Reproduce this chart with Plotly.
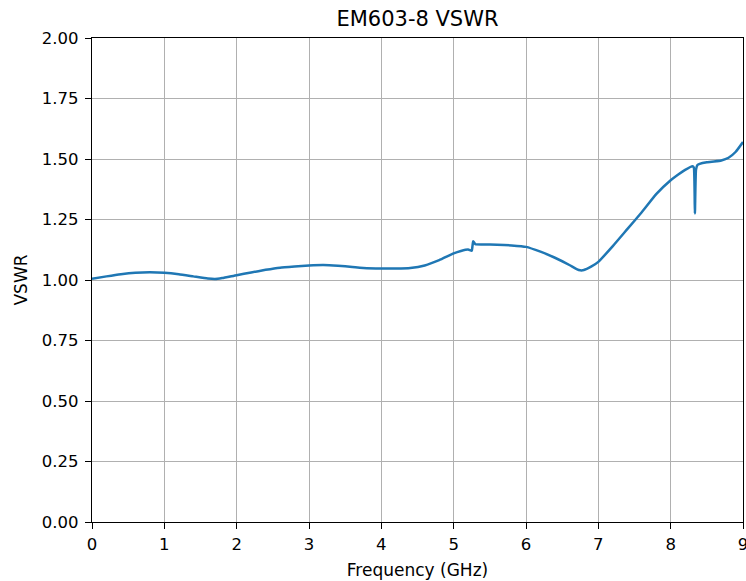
import plotly.graph_objects as go

freq_ghz = [0, 0.2, 0.4, 0.6, 0.8, 1.0, 1.2, 1.4, 1.6, 1.7, 1.8, 2.0, 2.2, 2.4, 2.6, 2.8,
            3.0, 3.2, 3.4, 3.6, 3.8, 4.0, 4.2, 4.4, 4.6, 4.8, 5.0, 5.1, 5.2, 5.25, 5.26,
            5.27, 5.3, 5.4, 5.6, 5.8, 6.0, 6.2, 6.4, 6.6, 6.7, 6.75, 6.8, 6.9, 7.0, 7.2,
            7.4, 7.6, 7.8, 8.0, 8.1, 8.2, 8.3, 8.32, 8.335, 8.35, 8.37, 8.4, 8.5, 8.6,
            8.7, 8.8, 8.9, 9.0]
vswr = [1.005, 1.015, 1.024, 1.030, 1.032, 1.030, 1.024, 1.015, 1.006, 1.004, 1.008,
        1.020, 1.031, 1.042, 1.051, 1.056, 1.060, 1.062, 1.059, 1.054, 1.049, 1.048,
        1.048, 1.050, 1.060, 1.082, 1.110, 1.120, 1.126, 1.121, 1.140, 1.160, 1.148,
        1.147, 1.146, 1.143, 1.137, 1.117, 1.092, 1.062, 1.045, 1.040, 1.041, 1.055,
        1.075, 1.140, 1.210, 1.280, 1.355, 1.412, 1.435, 1.455, 1.470, 1.465, 1.275,
        1.455, 1.475, 1.480, 1.487, 1.490, 1.494, 1.505, 1.530, 1.570]

x_ticks = [0, 1, 2, 3, 4, 5, 6, 7, 8, 9]
y_ticks = [0.0, 0.25, 0.5, 0.75, 1.0, 1.25, 1.5, 1.75, 2.0]

font = "DejaVu Sans"
tick_size = 16.5
label_size = 17

fig = go.Figure(go.Scatter(x=freq_ghz, y=vswr, mode="lines", cliponaxis=False,
                           line=dict(color="#1f77b4", width=2.5, shape="spline", smoothing=0.4)))

axis_common = dict(showgrid=True, gridcolor="#b0b0b0", gridwidth=1.3,
                   showline=True, linecolor="black", linewidth=1.3, mirror=True,
                   ticks="outside", ticklen=6, tickwidth=1.3, tickcolor="black",
                   zeroline=False, automargin=False, ticklabeloverflow="allow",
                   tickfont=dict(family=font, size=tick_size, color="black"))

fig.update_xaxes(range=[0, 9], tickvals=x_ticks, ticktext=[str(t) for t in x_ticks],
                 ticklabelstandoff=1,
                 title=dict(text="Frequency (GHz)", font=dict(family=font, size=label_size, color="black"),
                            standoff=11),
                 **axis_common)
fig.update_yaxes(range=[0, 2], tickvals=y_ticks, ticktext=[f"{t:.2f}" for t in y_ticks],
                 ticklabelstandoff=3,
                 title=dict(text="VSWR", font=dict(family=font, size=label_size, color="black"),
                            standoff=9),
                 **axis_common)

fig.update_layout(
    width=746, height=581,
    margin=dict(l=92, r=3, t=38, b=59, autoexpand=False),
    plot_bgcolor="white", paper_bgcolor="white",
    showlegend=False,
    title=dict(text="EM603-8 VSWR", x=(92 + 743) / 2 / 746, xanchor="center",
               y=1 - 19 / 581, yanchor="middle",
               font=dict(family=font, size=21, color="black")),
)

fig.write_html("out.html", config={"displayModeBar": False},
               post_script="document.body.style.margin='0';document.body.style.overflow='hidden';")
